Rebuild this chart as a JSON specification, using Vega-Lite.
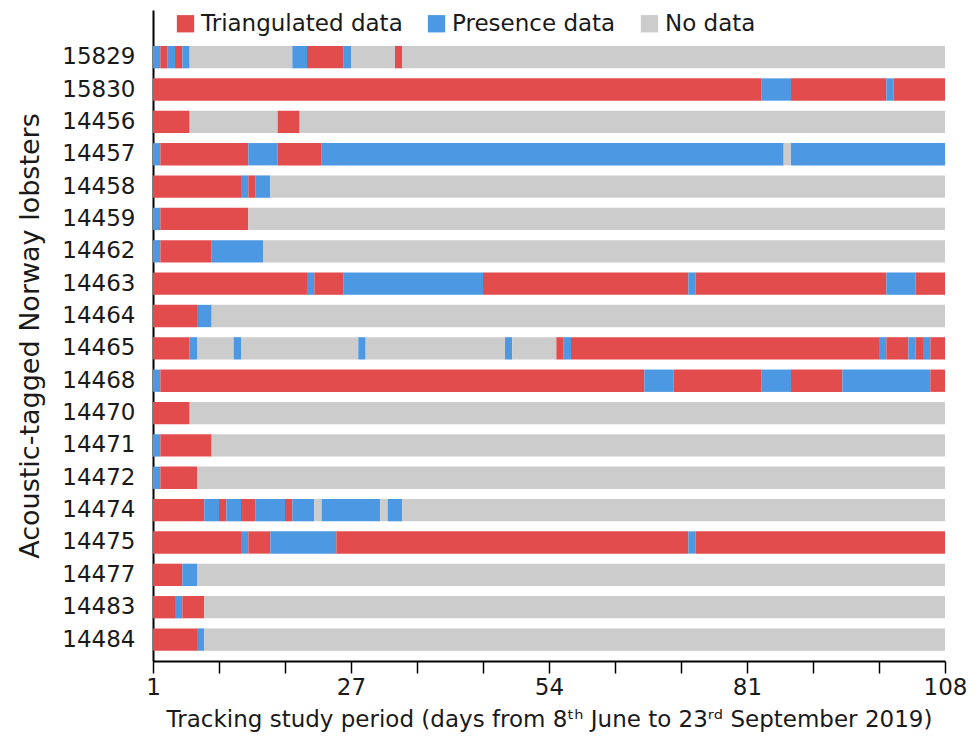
{
  "$schema": "https://vega.github.io/schema/vega-lite/v6.json",
  "autosize": {"type": "none"},
  "width": 792,
  "height": 651,
  "padding": {"left": 153, "top": 10, "right": 33, "bottom": 76},
  "background": "white",
  "config": {
    "view": {"stroke": null},
    "font": "DejaVu Sans"
  },
  "data": {
    "values": [
      {"id": "15829", "start": 0, "end": 1, "type": "Presence data"},
      {"id": "15829", "start": 1, "end": 2, "type": "Triangulated data"},
      {"id": "15829", "start": 2, "end": 3, "type": "Presence data"},
      {"id": "15829", "start": 3, "end": 4, "type": "Triangulated data"},
      {"id": "15829", "start": 4, "end": 5, "type": "Presence data"},
      {"id": "15829", "start": 5, "end": 19, "type": "No data"},
      {"id": "15829", "start": 19, "end": 21, "type": "Presence data"},
      {"id": "15829", "start": 21, "end": 26, "type": "Triangulated data"},
      {"id": "15829", "start": 26, "end": 27, "type": "Presence data"},
      {"id": "15829", "start": 27, "end": 33, "type": "No data"},
      {"id": "15829", "start": 33, "end": 34, "type": "Triangulated data"},
      {"id": "15829", "start": 34, "end": 108, "type": "No data"},
      {"id": "15830", "start": 0, "end": 83, "type": "Triangulated data"},
      {"id": "15830", "start": 83, "end": 87, "type": "Presence data"},
      {"id": "15830", "start": 87, "end": 100, "type": "Triangulated data"},
      {"id": "15830", "start": 100, "end": 101, "type": "Presence data"},
      {"id": "15830", "start": 101, "end": 108, "type": "Triangulated data"},
      {"id": "14456", "start": 0, "end": 5, "type": "Triangulated data"},
      {"id": "14456", "start": 5, "end": 17, "type": "No data"},
      {"id": "14456", "start": 17, "end": 20, "type": "Triangulated data"},
      {"id": "14456", "start": 20, "end": 108, "type": "No data"},
      {"id": "14457", "start": 0, "end": 1, "type": "Presence data"},
      {"id": "14457", "start": 1, "end": 13, "type": "Triangulated data"},
      {"id": "14457", "start": 13, "end": 17, "type": "Presence data"},
      {"id": "14457", "start": 17, "end": 23, "type": "Triangulated data"},
      {"id": "14457", "start": 23, "end": 86, "type": "Presence data"},
      {"id": "14457", "start": 86, "end": 87, "type": "No data"},
      {"id": "14457", "start": 87, "end": 108, "type": "Presence data"},
      {"id": "14458", "start": 0, "end": 12, "type": "Triangulated data"},
      {"id": "14458", "start": 12, "end": 13, "type": "Presence data"},
      {"id": "14458", "start": 13, "end": 14, "type": "Triangulated data"},
      {"id": "14458", "start": 14, "end": 16, "type": "Presence data"},
      {"id": "14458", "start": 16, "end": 108, "type": "No data"},
      {"id": "14459", "start": 0, "end": 1, "type": "Presence data"},
      {"id": "14459", "start": 1, "end": 13, "type": "Triangulated data"},
      {"id": "14459", "start": 13, "end": 108, "type": "No data"},
      {"id": "14462", "start": 0, "end": 1, "type": "Presence data"},
      {"id": "14462", "start": 1, "end": 8, "type": "Triangulated data"},
      {"id": "14462", "start": 8, "end": 15, "type": "Presence data"},
      {"id": "14462", "start": 15, "end": 108, "type": "No data"},
      {"id": "14463", "start": 0, "end": 21, "type": "Triangulated data"},
      {"id": "14463", "start": 21, "end": 22, "type": "Presence data"},
      {"id": "14463", "start": 22, "end": 26, "type": "Triangulated data"},
      {"id": "14463", "start": 26, "end": 45, "type": "Presence data"},
      {"id": "14463", "start": 45, "end": 73, "type": "Triangulated data"},
      {"id": "14463", "start": 73, "end": 74, "type": "Presence data"},
      {"id": "14463", "start": 74, "end": 100, "type": "Triangulated data"},
      {"id": "14463", "start": 100, "end": 104, "type": "Presence data"},
      {"id": "14463", "start": 104, "end": 108, "type": "Triangulated data"},
      {"id": "14464", "start": 0, "end": 6, "type": "Triangulated data"},
      {"id": "14464", "start": 6, "end": 8, "type": "Presence data"},
      {"id": "14464", "start": 8, "end": 108, "type": "No data"},
      {"id": "14465", "start": 0, "end": 5, "type": "Triangulated data"},
      {"id": "14465", "start": 5, "end": 6, "type": "Presence data"},
      {"id": "14465", "start": 6, "end": 11, "type": "No data"},
      {"id": "14465", "start": 11, "end": 12, "type": "Presence data"},
      {"id": "14465", "start": 12, "end": 28, "type": "No data"},
      {"id": "14465", "start": 28, "end": 29, "type": "Presence data"},
      {"id": "14465", "start": 29, "end": 48, "type": "No data"},
      {"id": "14465", "start": 48, "end": 49, "type": "Presence data"},
      {"id": "14465", "start": 49, "end": 55, "type": "No data"},
      {"id": "14465", "start": 55, "end": 56, "type": "Triangulated data"},
      {"id": "14465", "start": 56, "end": 57, "type": "Presence data"},
      {"id": "14465", "start": 57, "end": 99, "type": "Triangulated data"},
      {"id": "14465", "start": 99, "end": 100, "type": "Presence data"},
      {"id": "14465", "start": 100, "end": 103, "type": "Triangulated data"},
      {"id": "14465", "start": 103, "end": 104, "type": "Presence data"},
      {"id": "14465", "start": 104, "end": 105, "type": "Triangulated data"},
      {"id": "14465", "start": 105, "end": 106, "type": "Presence data"},
      {"id": "14465", "start": 106, "end": 108, "type": "Triangulated data"},
      {"id": "14468", "start": 0, "end": 1, "type": "Presence data"},
      {"id": "14468", "start": 1, "end": 67, "type": "Triangulated data"},
      {"id": "14468", "start": 67, "end": 71, "type": "Presence data"},
      {"id": "14468", "start": 71, "end": 83, "type": "Triangulated data"},
      {"id": "14468", "start": 83, "end": 87, "type": "Presence data"},
      {"id": "14468", "start": 87, "end": 94, "type": "Triangulated data"},
      {"id": "14468", "start": 94, "end": 106, "type": "Presence data"},
      {"id": "14468", "start": 106, "end": 108, "type": "Triangulated data"},
      {"id": "14470", "start": 0, "end": 5, "type": "Triangulated data"},
      {"id": "14470", "start": 5, "end": 108, "type": "No data"},
      {"id": "14471", "start": 0, "end": 1, "type": "Presence data"},
      {"id": "14471", "start": 1, "end": 8, "type": "Triangulated data"},
      {"id": "14471", "start": 8, "end": 108, "type": "No data"},
      {"id": "14472", "start": 0, "end": 1, "type": "Presence data"},
      {"id": "14472", "start": 1, "end": 6, "type": "Triangulated data"},
      {"id": "14472", "start": 6, "end": 108, "type": "No data"},
      {"id": "14474", "start": 0, "end": 7, "type": "Triangulated data"},
      {"id": "14474", "start": 7, "end": 9, "type": "Presence data"},
      {"id": "14474", "start": 9, "end": 10, "type": "Triangulated data"},
      {"id": "14474", "start": 10, "end": 12, "type": "Presence data"},
      {"id": "14474", "start": 12, "end": 14, "type": "Triangulated data"},
      {"id": "14474", "start": 14, "end": 18, "type": "Presence data"},
      {"id": "14474", "start": 18, "end": 19, "type": "Triangulated data"},
      {"id": "14474", "start": 19, "end": 22, "type": "Presence data"},
      {"id": "14474", "start": 22, "end": 23, "type": "No data"},
      {"id": "14474", "start": 23, "end": 31, "type": "Presence data"},
      {"id": "14474", "start": 31, "end": 32, "type": "No data"},
      {"id": "14474", "start": 32, "end": 34, "type": "Presence data"},
      {"id": "14474", "start": 34, "end": 108, "type": "No data"},
      {"id": "14475", "start": 0, "end": 12, "type": "Triangulated data"},
      {"id": "14475", "start": 12, "end": 13, "type": "Presence data"},
      {"id": "14475", "start": 13, "end": 16, "type": "Triangulated data"},
      {"id": "14475", "start": 16, "end": 25, "type": "Presence data"},
      {"id": "14475", "start": 25, "end": 73, "type": "Triangulated data"},
      {"id": "14475", "start": 73, "end": 74, "type": "Presence data"},
      {"id": "14475", "start": 74, "end": 108, "type": "Triangulated data"},
      {"id": "14477", "start": 0, "end": 4, "type": "Triangulated data"},
      {"id": "14477", "start": 4, "end": 6, "type": "Presence data"},
      {"id": "14477", "start": 6, "end": 108, "type": "No data"},
      {"id": "14483", "start": 0, "end": 3, "type": "Triangulated data"},
      {"id": "14483", "start": 3, "end": 4, "type": "Presence data"},
      {"id": "14483", "start": 4, "end": 7, "type": "Triangulated data"},
      {"id": "14483", "start": 7, "end": 108, "type": "No data"},
      {"id": "14484", "start": 0, "end": 6, "type": "Triangulated data"},
      {"id": "14484", "start": 6, "end": 7, "type": "Presence data"},
      {"id": "14484", "start": 7, "end": 108, "type": "No data"}
    ]
  },
  "mark": {"type": "bar"},
  "encoding": {
    "y": {
      "field": "id",
      "type": "nominal",
      "sort": ["15829","15830","14456","14457","14458","14459","14462","14463","14464","14465","14468","14470","14471","14472","14474","14475","14477","14483","14484"],
      "scale": {"paddingInner": 0.31, "paddingOuter": 0.715, "align": 0.778},
      "axis": {
        "title": "Acoustic-tagged Norway lobsters",
        "titleFontSize": 27,
        "titleFontWeight": "normal",
        "titleColor": "#1a1a1a",
        "titlePadding": 17,
        "labelFontSize": 23,
        "labelColor": "#1a1a1a",
        "labelPadding": 18,
        "ticks": false,
        "domainColor": "#000000",
        "domainWidth": 2
      }
    },
    "x": {
      "field": "start",
      "type": "quantitative",
      "scale": {"domain": [0, 108], "nice": false, "zero": true},
      "axis": {
        "title": "Tracking study period (days from 8ᵗʰ June to 23ʳᵈ September 2019)",
        "titleFontSize": 23,
        "titleFontWeight": "normal",
        "titleColor": "#1a1a1a",
        "titlePadding": 9,
        "values": [0, 9, 18, 27, 36, 45, 54, 63, 72, 81, 90, 99, 108],
        "labelExpr": "datum.value == 0 ? '1' : (datum.value % 27 == 0 ? datum.label : '')",
        "labelFontSize": 23,
        "labelColor": "#1a1a1a",
        "labelPadding": 3,
        "labelFlush": false,
        "labelOverlap": false,
        "tickSize": 12,
        "tickColor": "#000000",
        "tickWidth": 1.5,
        "domainColor": "#000000",
        "domainWidth": 2,
        "grid": false
      }
    },
    "x2": {"field": "end"},
    "color": {
      "field": "type",
      "type": "nominal",
      "scale": {
        "domain": ["Triangulated data", "Presence data", "No data"],
        "range": ["#e34c4c", "#4c98e2", "#cccccc"]
      },
      "legend": {
        "title": null,
        "orient": "none",
        "legendX": 21,
        "legendY": 2,
        "direction": "horizontal",
        "symbolType": "square",
        "symbolSize": 300,
        "symbolStrokeWidth": 0,
        "labelFontSize": 23,
        "labelColor": "#1a1a1a",
        "labelOffset": 4,
        "columnPadding": 22,
        "labelLimit": 400
      }
    }
  }
}
